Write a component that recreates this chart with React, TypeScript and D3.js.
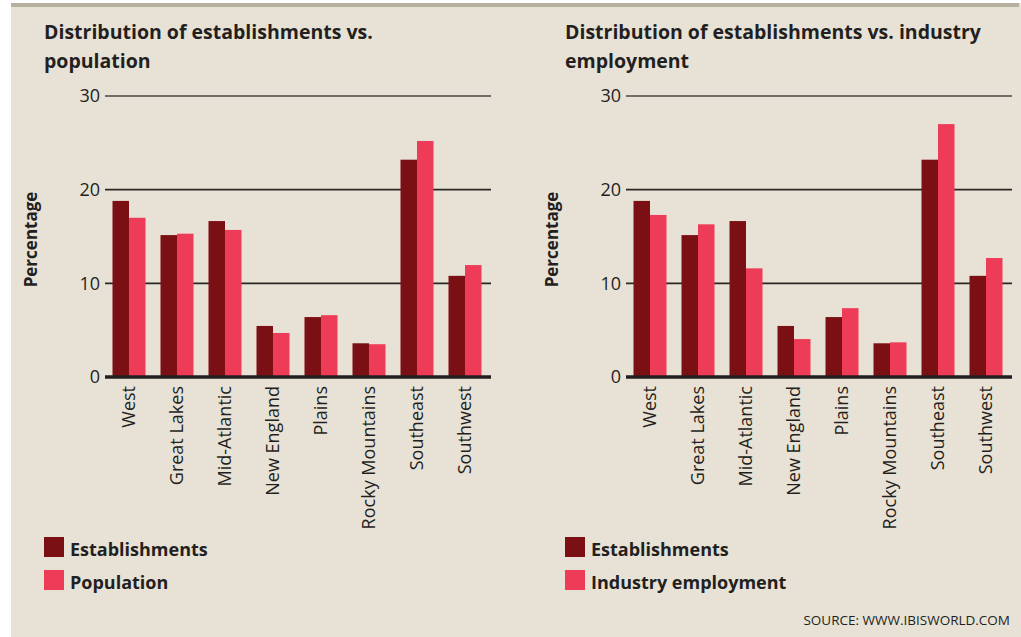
import React from "react";
import * as d3 from "d3";

const regions = ["West", "Great Lakes", "Mid-Atlantic", "New England", "Plains", "Rocky Mountains", "Southeast", "Southwest"];
const establishments = [18.8, 15.15, 16.65, 5.45, 6.4, 3.6, 23.2, 10.8];
const population = [17.0, 15.3, 15.7, 4.7, 6.6, 3.5, 25.2, 11.95];
const industryEmployment = [17.3, 16.3, 11.6, 4.05, 7.35, 3.7, 27.0, 12.7];
const yTicks = [0, 10, 20, 30];

const DARK = "#7a1014";
const PINK = "#ee3b57";
const TEXT = "#231f20";

type PanelProps = {
  x0: number;
  title: string[];
  seriesA: number[];
  seriesB: number[];
  labelA: string;
  labelB: string;
};

function Panel({ x0, title, seriesA, seriesB, labelA, labelB }: PanelProps) {
  const left = x0 + 61;
  const right = left + 384;
  const x = d3.scaleBand<string>().domain(regions).range([left, right]).paddingInner(0.3125).paddingOuter(0.15625);
  const inner = d3.scaleBand<string>().domain(["a", "b"]).range([0, x.bandwidth()]);
  const y = d3.scaleLinear().domain([0, 30]).range([377, 96]);
  return (
    <g>
      {title.map((t, i) => (
        <text key={i} x={x0} y={39 + i * 29} fontFamily="Open Sans" fontWeight={700} fontSize={19.5} fill={TEXT}>
          {t}
        </text>
      ))}
      {yTicks.filter((t) => t > 0).map((t) => (
        <line key={t} x1={left} x2={right + 2} y1={y(t)} y2={y(t)} stroke={t === 30 ? "#4a4642" : "#2a2624"} strokeWidth={1.6} />
      ))}
      {yTicks.map((t) => (
        <text key={t} x={left - 5} y={y(t)} dy="0.36em" textAnchor="end" fontFamily="Open Sans" fontSize={18} fill={TEXT}>
          {t}
        </text>
      ))}
      <text transform={`translate(${x0 - 7},${y(15) + 3}) rotate(-90)`} textAnchor="middle" fontFamily="Open Sans" fontWeight={700} fontSize={17} fill={TEXT}>
        Percentage
      </text>
      {regions.map((r, i) => (
        <g key={r}>
          <rect x={(x(r) as number) + (inner("a") as number)} width={inner.bandwidth()} y={y(seriesA[i])} height={y(0) - y(seriesA[i])} fill={DARK} />
          <rect x={(x(r) as number) + (inner("b") as number)} width={inner.bandwidth()} y={y(seriesB[i])} height={y(0) - y(seriesB[i])} fill={PINK} />
          <text
            transform={`translate(${(x(r) as number) + x.bandwidth() / 2},${386}) rotate(-90)`}
            textAnchor="end"
            dy="0.35em"
            fontFamily="Open Sans"
            fontSize={18}
            fill={TEXT}
          >
            {r}
          </text>
        </g>
      ))}
      <line x1={left} x2={right + 2} y1={y(0)} y2={y(0)} stroke="#231f20" strokeWidth={3.5} />
      <rect x={x0} y={537} width={20} height={20} fill={DARK} />
      <text x={x0 + 26} y={556} fontFamily="Open Sans" fontWeight={700} fontSize={18} fill={TEXT}>
        {labelA}
      </text>
      <rect x={x0} y={570} width={20} height={20} fill={PINK} />
      <text x={x0 + 26} y={589} fontFamily="Open Sans" fontWeight={700} fontSize={18} fill={TEXT}>
        {labelB}
      </text>
    </g>
  );
}

export default function App() {
  return (
    <svg width={1021} height={637} style={{ position: "absolute", left: 0, top: 0 }}>
      <rect x={0} y={0} width={1021} height={637} fill="#ffffff" />
      <rect x={11} y={3} width={1010} height={634} fill="#e8e2d6" />
      <rect x={11} y={3} width={1008} height={4} fill="#b8b09f" />
      <Panel
        x0={44}
        title={["Distribution of establishments vs.", "population"]}
        seriesA={establishments}
        seriesB={population}
        labelA="Establishments"
        labelB="Population"
      />
      <Panel
        x0={565}
        title={["Distribution of establishments vs. industry", "employment"]}
        seriesA={establishments}
        seriesB={industryEmployment}
        labelA="Establishments"
        labelB="Industry employment"
      />
      <text x={1010} y={625} textAnchor="end" fontFamily="Open Sans" fontSize={13.5} fill={TEXT}>
        SOURCE: WWW.IBISWORLD.COM
      </text>
    </svg>
  );
}
